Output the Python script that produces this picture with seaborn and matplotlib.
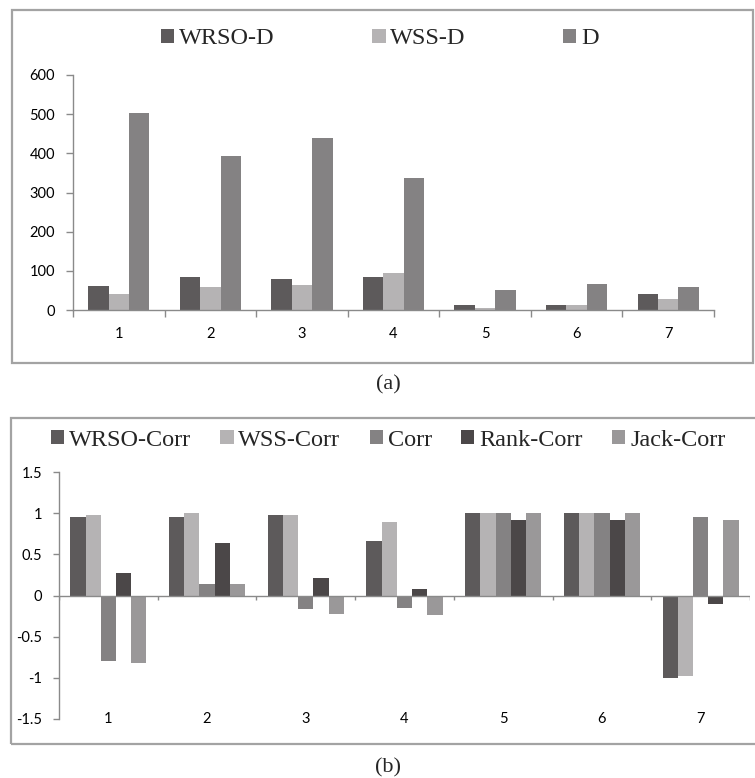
import numpy as np
import pandas as pd
import matplotlib
matplotlib.use("Agg")
import matplotlib.pyplot as plt
from matplotlib.patches import Patch, Rectangle
import seaborn as sns

# ---------------- data ----------------
categories = ["1", "2", "3", "4", "5", "6", "7"]

series_a = ["WRSO-D", "WSS-D", "D"]
wrso_d = [61, 84, 78, 84, 12, 12, 42]
wss_d = [42, 58, 65, 94, 4, 12, 28]
d_vals = [504, 393, 438, 336, 51, 67, 58]
yticks_a = [0, 100, 200, 300, 400, 500, 600]

series_b = ["WRSO-Corr", "WSS-Corr", "Corr", "Rank-Corr", "Jack-Corr"]
wrso_corr = [0.95, 0.95, 0.98, 0.66, 1.0, 1.0, -1.0]
wss_corr = [0.98, 1.0, 0.98, 0.89, 1.0, 1.0, -0.98]
corr = [-0.79, 0.14, -0.16, -0.15, 1.0, 1.0, 0.95]
rank_corr = [0.27, 0.64, 0.21, 0.08, 0.92, 0.92, -0.10]
jack_corr = [-0.82, 0.14, -0.22, -0.24, 1.0, 1.0, 0.92]
yticks_b = [-1.5, -1, -0.5, 0, 0.5, 1, 1.5]
ytick_labels_b = ["-1.5", "-1", "-0.5", "0", "0.5", "1", "1.5"]

colors_a = ["#5d5a5b", "#b5b3b4", "#848283"]
colors_b = ["#5d5a5b", "#b5b3b4", "#848283", "#4b4748", "#9a9899"]

df_a = pd.DataFrame({
    "cat": categories * 3,
    "val": wrso_d + wss_d + d_vals,
    "series": [s for s in series_a for _ in categories],
})
df_b = pd.DataFrame({
    "cat": categories * 5,
    "val": wrso_corr + wss_corr + corr + rank_corr + jack_corr,
    "series": [s for s in series_b for _ in categories],
})

# ---------------- figure ----------------
sns.set_style("white")
plt.rcParams["font.family"] = ["Lato", "DejaVu Sans"]

W, H = 755, 778
fig = plt.figure(figsize=(W / 100, H / 100), dpi=100)
fig.patch.set_facecolor("white")

serif = ["Liberation Serif", "DejaVu Serif"]
spine_col = "#8a8a8a"

def fx(px):
    return px / W

def fy(py):
    return 1 - py / H

# panel frames
for (x0, y0, x1, y1) in [(12, 10, 753, 363), (11, 418, 760, 744)]:
    fig.patches.append(Rectangle((fx(x0), fy(y1)), fx(x1) - fx(x0), fy(y0) - fy(y1),
                                 transform=fig.transFigure, fill=False,
                                 edgecolor="#a3a3a3", linewidth=1.6, zorder=0))

# ---------------- panel (a) ----------------
ax1 = fig.add_axes([fx(73), fy(310), fx(714) - fx(73), fy(75) - fy(310)])
sns.barplot(data=df_a, x="cat", y="val", hue="series", hue_order=series_a,
            palette=colors_a, width=0.67, gap=0, saturation=1, errorbar=None,
            edgecolor="none", linewidth=0, legend=False, ax=ax1)
ax1.set_xlim(-0.5, len(categories) - 0.5)
ax1.set_ylim(0, 600)
ax1.set_yticks(yticks_a)
ax1.set_yticklabels([str(v) for v in yticks_a])
ax1.set_xlabel("")
ax1.set_ylabel("")
ax1.set_facecolor("none")
for s in ["top", "right"]:
    ax1.spines[s].set_visible(False)
for s in ["left", "bottom"]:
    ax1.spines[s].set_color(spine_col)
    ax1.spines[s].set_linewidth(1.0)
ax1.set_xticks(np.arange(len(categories)))
ax1.set_xticklabels(categories)
ax1.set_xticks(np.arange(len(categories) + 1) - 0.5, minor=True)
ax1.tick_params(axis="x", which="major", length=0, pad=12, labelsize=10.5, colors="black")
ax1.tick_params(axis="x", which="minor", length=5, width=1, color=spine_col, direction="out")
ax1.tick_params(axis="y", length=5, width=1, color=spine_col, direction="out", pad=8,
                labelsize=10.5, labelcolor="black")
ax1.tick_params(left=True, bottom=True)
ax1.xaxis.set_tick_params(which="minor", bottom=True)

handles_a = [Patch(facecolor=c, edgecolor="none") for c in colors_a]
fig.legend(handles_a, series_a, loc="center", bbox_to_anchor=(fx(380), fy(39)),
           ncol=3, frameon=False, prop={"family": serif, "size": 17.5},
           handlelength=0.55, handleheight=0.55, handletextpad=0.2,
           columnspacing=4.0)

fig.text(fx(388), fy(385), "(a)", ha="center", va="center",
         family=serif, fontsize=16)

# ---------------- panel (b) ----------------
ax2 = fig.add_axes([fx(59), fy(719), fx(750) - fx(59), fy(472) - fy(719)])
sns.barplot(data=df_b, x="cat", y="val", hue="series", hue_order=series_b,
            palette=colors_b, width=0.77, gap=0, saturation=1, errorbar=None,
            edgecolor="none", linewidth=0, legend=False, ax=ax2)
ax2.set_xlim(-0.5, len(categories) - 0.5)
ax2.set_ylim(-1.5, 1.5)
ax2.set_yticks(yticks_b)
ax2.set_yticklabels(ytick_labels_b)
ax2.set_xlabel("")
ax2.set_ylabel("")
ax2.set_facecolor("none")
for s in ["top", "right", "bottom"]:
    ax2.spines[s].set_visible(False)
ax2.spines["left"].set_color(spine_col)
ax2.spines["left"].set_linewidth(1.0)
ax2.axhline(0, color=spine_col, linewidth=1.0, zorder=3)
ax2.vlines(np.arange(len(categories) + 1) - 0.5, -0.06, 0, color=spine_col,
           linewidth=1.0, zorder=3)
ax2.set_xticks(np.arange(len(categories)))
ax2.set_xticklabels(categories)
ax2.tick_params(axis="x", which="major", length=0, pad=0, labelsize=10.5, colors="black")
for lab in ax2.get_xticklabels():
    lab.set_va("center")
ax2.tick_params(axis="y", length=4, width=1, color=spine_col, direction="out", pad=8,
                labelsize=10.5, labelcolor="black")
ax2.tick_params(left=True)

handles_b = [Patch(facecolor=c, edgecolor="none") for c in colors_b]
fig.legend(handles_b, series_b, loc="center", bbox_to_anchor=(fx(388), fy(440)),
           ncol=5, frameon=False, prop={"family": serif, "size": 17.5},
           handlelength=0.55, handleheight=0.55, handletextpad=0.2,
           columnspacing=1.2)

fig.text(fx(388), fy(768), "(b)", ha="center", va="center",
         family=serif, fontsize=16)

fig.savefig("out.png", dpi=100)
